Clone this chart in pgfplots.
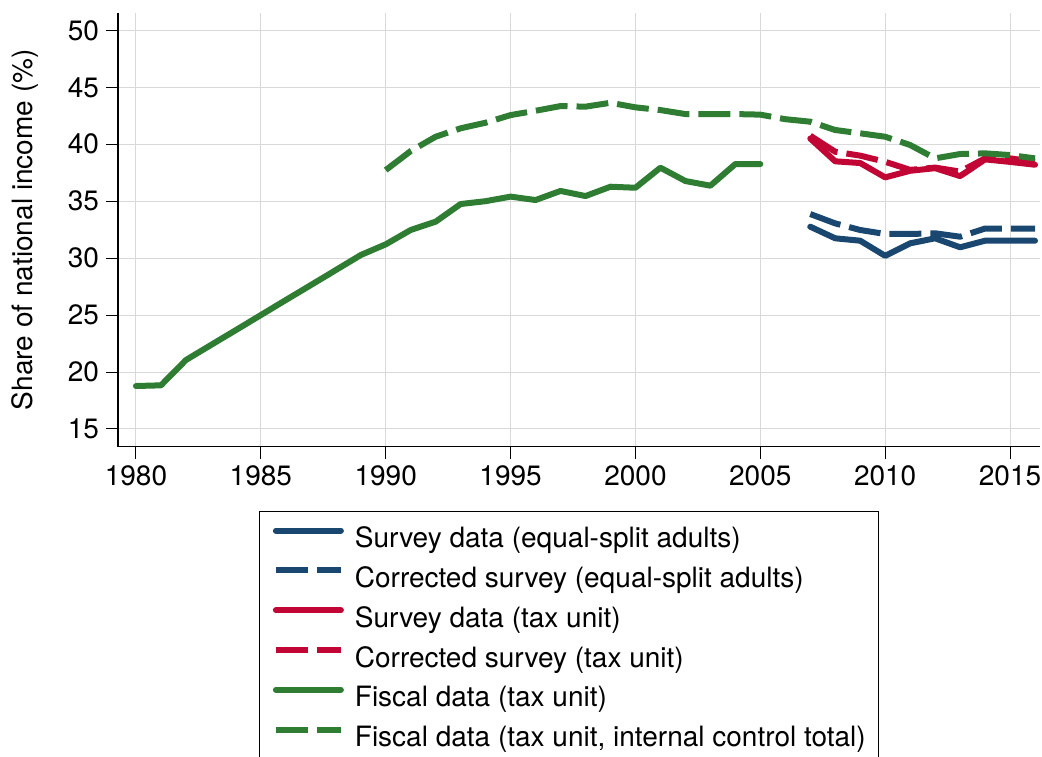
\documentclass[border=0pt]{standalone}
\usepackage{fontspec}
\setmainfont{TeX Gyre Heros}
\usepackage{pgfplots}
\pgfplotsset{compat=1.18}

\definecolor{snavy}{HTML}{1A476F}
\definecolor{scran}{HTML}{C10534}
\definecolor{sgreen}{HTML}{2E7D32}

\begin{document}
\begin{tikzpicture}
\begin{axis}[
    scale only axis,
    width=461pt, height=217pt,
    xmin=1979.28, xmax=2016.2,
    ymin=13.44, ymax=51.55,
    xtick={1980,1985,...,2015},
    ytick={15,20,...,50},
    axis lines*=left,
    tick align=outside,
    major tick length=6pt,
    tick style={black, line width=0.5pt},
    axis line style={black, line width=0.6pt},
    grid=major,
    grid style={gray!30, line width=0.5pt},
    /pgf/number format/assume math mode=true,
    /pgf/number format/1000 sep={},
    tick label style={font=\fontsize{14}{16}\selectfont},
    ylabel={Share of national income (\%)},
    every axis y label/.style={at={(axis description cs:-0.1009,0.5)}, rotate=90, anchor=center, font=\fontsize{14}{16}\selectfont},
    legend style={
        at={(0.15325,-0.14816)}, anchor=north west,
        draw=black, line width=0.6pt,
        inner xsep=6.5pt, inner ysep=7.5pt,
        font=\fontsize{14}{16}\selectfont,
        nodes={inner sep=0pt, text height=10.5pt, text depth=3.5pt},
        column sep=5.5pt, row sep=5.9pt,
        column 2/.style={nodes={text width=271pt, align=left}},
    },
    legend cell align=left,
    legend image code/.code={\draw[#1] (0pt,5pt) -- (32.5pt,5pt);},
    every axis plot/.append style={line width=3pt, line join=round},
]
% survey, equal-split adults
\addplot[snavy, line cap=round] coordinates {
(2007,32.76)(2008,31.74)(2009,31.53)(2010,30.2)(2011,31.3)(2012,31.74)(2013,30.95)(2014,31.53)(2015,31.53)(2016,31.53)};
\addplot[snavy, dash pattern=on 16pt off 4.5pt] coordinates {
(2007,33.87)(2008,33.05)(2009,32.47)(2010,32.12)(2011,32.12)(2012,32.18)(2013,31.88)(2014,32.6)(2015,32.6)(2016,32.6)};
% survey, tax unit
\addplot[scran, line cap=round] coordinates {
(2007,40.5)(2008,38.5)(2009,38.35)(2010,37.09)(2011,37.67)(2012,37.9)(2013,37.2)(2014,38.67)(2015,38.45)(2016,38.2)};
\addplot[scran, dash pattern=on 16pt off 4.5pt] coordinates {
(2007,40.75)(2008,39.34)(2009,39.0)(2010,38.46)(2011,37.75)(2012,37.95)(2013,37.6)(2014,38.76)(2015,38.76)(2016,38.46)};
% fiscal
\addplot[sgreen, line cap=round] coordinates {
(1980,18.77)(1981,18.83)(1982,21.05)(1983,22.37)(1984,23.68)(1985,25.0)(1986,26.32)(1987,27.63)(1988,28.95)(1989,30.27)
(1990,31.21)(1991,32.47)(1992,33.2)(1993,34.75)(1994,35.0)(1995,35.4)(1996,35.1)(1997,35.9)(1998,35.45)(1999,36.27)
(2000,36.18)(2001,37.94)(2002,36.77)(2003,36.36)(2004,38.26)(2005,38.26)};
\addplot[sgreen, dash pattern=on 16pt off 4.5pt] coordinates {
(1990,37.73)(1991,39.4)(1992,40.66)(1993,41.4)(1994,41.89)(1995,42.56)(1996,42.94)(1997,43.35)(1998,43.3)(1999,43.64)
(2000,43.24)(2001,43.0)(2002,42.65)(2003,42.65)(2004,42.65)(2005,42.6)(2006,42.2)(2007,41.98)(2008,41.25)(2009,40.96)
(2010,40.66)(2011,39.93)(2012,38.76)(2013,39.14)(2014,39.2)(2015,39.05)(2016,38.76)};
\legend{Survey data (equal-split adults),
        Corrected survey (equal-split adults),
        Survey data (tax unit),
        Corrected survey (tax unit),
        Fiscal data (tax unit),
        {Fiscal data (tax unit, internal control total)}}
\end{axis}
\pgfresetboundingbox
\path (-59pt,-154.65pt) rectangle (462pt,223.35pt);
\end{tikzpicture}
\end{document}
